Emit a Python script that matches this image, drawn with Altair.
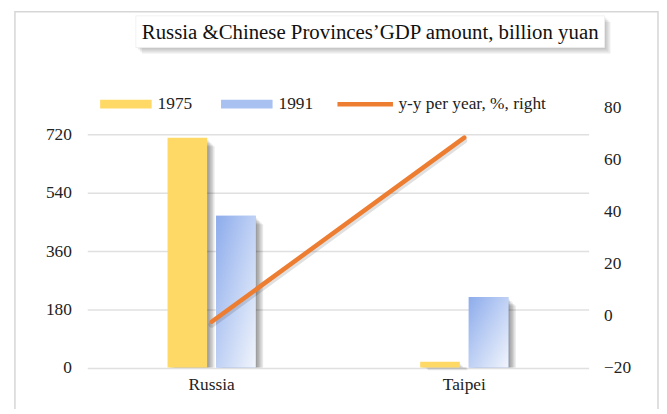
import altair as alt
import pandas as pd

categories = ["Russia", "Taipei"]
years = ["1975", "1991"]
gdp_1975 = [710, 18]
gdp_1991 = [469, 218]
yy_growth = [-2.4, 68.4]
left_ticks = [0, 180, 360, 540, 720]
right_ticks = [-20, 0, 20, 40, 60, 80]
title_text = "Russia &Chinese Provinces\u2019GDP amount, billion yuan"
line_label = "y-y per year, %, right"

FONT = "'Liberation Serif', 'Times New Roman', Times, serif"
YELLOW = "#FED966"
BLUE = "#A9C1F1"
ORANGE = "#ED7D31"
BANDWIDTH = 89.0

bars_df = pd.DataFrame({
    "region": categories * 2,
    "year": [years[0]] * len(categories) + [years[1]] * len(categories),
    "gdp": gdp_1975 + gdp_1991,
})
line_df = pd.DataFrame({"region": categories, "growth": yy_growth, "series": [line_label] * len(categories)})
one = pd.DataFrame({"k": [0]})

blue_grad = alt.Gradient(
    gradient="linear", x1=0, y1=0, x2=1, y2=1,
    stops=[alt.GradientStop(offset=0, color="#8DACEC"), alt.GradientStop(offset=1, color="#F1F5FC")],
)

x_enc = alt.X("region:N", sort=categories,
              scale=alt.Scale(domain=categories, paddingInner=0.651, paddingOuter=0.3177, round=False),
              axis=alt.Axis(title=None, labelAngle=0, ticks=False, domain=False, labelPadding=8,
                            labelFont=FONT, labelFontSize=17.5, labelColor="#222222"))
xo_enc = alt.XOffset("year:N", scale=alt.Scale(domain=years, paddingInner=0.184, paddingOuter=0, round=False))
y_enc = alt.Y("gdp:Q", scale=alt.Scale(domain=[0, 804], nice=False, zero=True),
              axis=alt.Axis(title=None, values=left_ticks, ticks=False, domain=False, labelPadding=16,
                            grid=True, gridColor="#E0E0E0", gridWidth=1.5,
                            labelFont=FONT, labelFontSize=17.5, labelColor="#222222"))

base = alt.Chart(bars_df).encode(x=x_enc, xOffset=xo_enc, y=y_enc)

shadows = [
    alt.Chart(bars_df).mark_bar(color="#000000", opacity=0.09, yOffset=k + 1, y2Offset=0).encode(
        x=x_enc,
        xOffset=alt.XOffset("year:N", scale=alt.Scale(domain=years, paddingInner=0.184, paddingOuter=0,
                                                      round=False, range=[k, BANDWIDTH + k])),
        y=y_enc, y2=alt.datum(0))
    for k in (1.5, 3, 4.5, 6, 7.5)
]

bars = base.mark_bar().encode(
    fill=alt.Fill("year:N", scale=alt.Scale(domain=years, range=[YELLOW, BLUE]),
                  legend=alt.Legend(orient="none", legendX=13, legendY=-29.5, direction="horizontal",
                                    title=None, symbolType="M-1,-0.17H1V0.17H-1Z", symbolSize=2704,
                                    symbolStrokeWidth=0, labelFont=FONT, labelFontSize=17.5,
                                    labelColor="#222222", labelOffset=6, columnPadding=29, padding=0))
)
bars_grad = base.transform_filter(alt.datum.year == years[1]).mark_bar(fill=blue_grad)

bar_layer = alt.layer(*shadows, bars, bars_grad).resolve_scale(xOffset="independent")

ly_enc = alt.Y("growth:Q", scale=alt.Scale(domain=[-20, 80], nice=False, zero=False),
               axis=alt.Axis(title=None, orient="right", values=right_ticks, ticks=False, domain=False,
                             grid=False, labelPadding=15, labelFont=FONT, labelFontSize=17.5,
                             labelColor="#222222"))
lbase = alt.Chart(line_df).encode(x=alt.X("region:N", sort=categories), y=ly_enc)
line_shadow = lbase.mark_line(color="#000000", opacity=0.12, strokeWidth=6, yOffset=3, strokeCap="round")
line = lbase.mark_line(strokeWidth=4.5, strokeCap="round").encode(
    stroke=alt.Stroke("series:N", scale=alt.Scale(domain=[line_label], range=[ORANGE]),
                      legend=alt.Legend(orient="none", legendX=250, legendY=-33.8, title=None,
                                        symbolType="stroke", symbolSize=3136, symbolStrokeWidth=4.5,
                                        labelFont=FONT, labelFontSize=17.5, labelColor="#222222",
                                        labelOffset=3, padding=0))
)
line_layer = alt.layer(line_shadow, line)

frame = alt.Chart(one).mark_rect(fill=None, stroke="#D6D6D6", strokeWidth=1.5).encode(
    x=alt.value(-73), x2=alt.value(576), y=alt.value(-96.5), y2=alt.value(320))
tb_shadows = [
    alt.Chart(one).mark_rect(fill="#000000", opacity=0.08).encode(
        x=alt.value(49 + k), x2=alt.value(522 + k), y=alt.value(-92.5 + k), y2=alt.value(-60.5 + k))
    for k in (2, 4, 6)
]
tbox = alt.Chart(one).mark_rect(fill="white", stroke="#EEEEEE", strokeWidth=0.8).encode(
    x=alt.value(49), x2=alt.value(522), y=alt.value(-92.5), y2=alt.value(-60.5))
ttext = alt.Chart(one).mark_text(text=title_text, font=FONT, fontSize=21, color="#111111",
                                 align="center", baseline="middle").encode(
    x=alt.value(285.5), y=alt.value(-75.5))

chart = alt.layer(
    frame, *tb_shadows, tbox, ttext, bar_layer, line_layer,
).resolve_scale(y="independent").properties(
    width=506, height=262.5,
    padding={"left": 80, "top": 98.5, "right": 71, "bottom": 40},
    autosize=alt.AutoSizeParams(type="none"),
    background="white",
).configure_view(stroke=None)

chart.save("out.html", embed_options={"renderer": "svg", "actions": False})
